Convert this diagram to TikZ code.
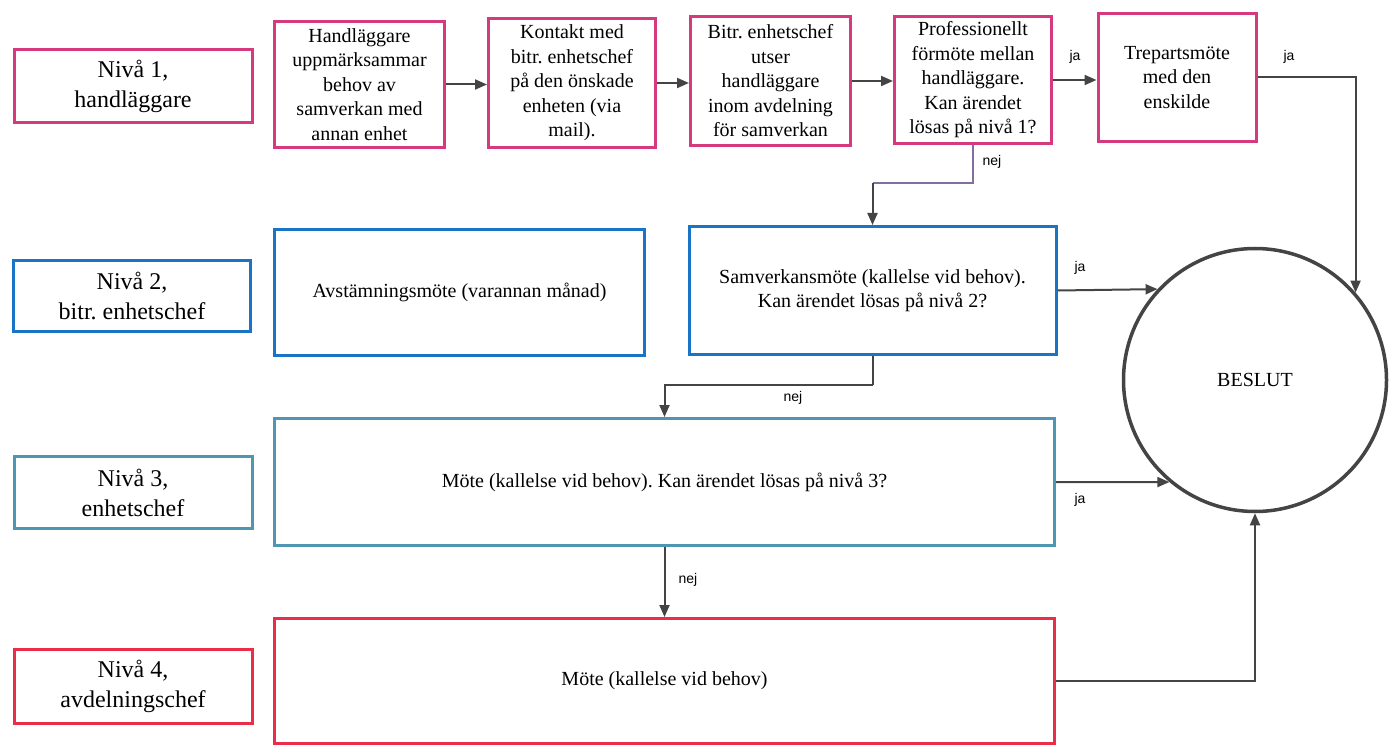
\documentclass[tikz,border=0pt]{standalone}
\usepackage{fontspec}
\setmainfont{Liberation Serif}
\newfontfamily\serifmain{Liberation Serif}
\newfontfamily\labsans{Liberation Sans}
\usetikzlibrary{arrows.meta}
\frenchspacing
\definecolor{cpink}{RGB}{212,58,125}
\definecolor{cblue}{RGB}{25,116,198}
\definecolor{cteal}{RGB}{78,150,178}
\definecolor{cred}{RGB}{234,46,74}
\definecolor{cgray}{RGB}{68,68,68}
\definecolor{clav}{RGB}{130,110,160}
\newcommand\boxfont{\serifmain\frenchspacing\fontsize{20}{24.5}\selectfont}
\newcommand\nivfont{\serifmain\fontsize{24}{30}\selectfont}
\tikzset{
  base/.style={draw, line width=3pt, fill=white, align=center, inner sep=0pt, font=\boxfont},
  pinkbox/.style={base, draw=cpink},
  bluebox/.style={base, draw=cblue},
  tealbox/.style={base, draw=cteal},
  redbox/.style={base, draw=cred},
  nivbox/.style={font=\nivfont},
  conn/.style={line width=2pt, draw=cgray, -{Triangle[length=12pt,width=10pt]}},
  plainline/.style={line width=2pt, draw=cgray},
  lavline/.style={line width=2pt, draw=clav},
  yesno/.style={font=\labsans\fontsize{14}{16}\selectfont, text=black, inner sep=0pt},
}
\begin{document}
\begin{tikzpicture}[x=1pt,y=-1pt]
\useasboundingbox (0,0) rectangle (1390,746);
% level labels
\node[pinkbox, nivbox, minimum width=238pt, minimum height=73pt] (n1) at (133,86) {Nivå 1,\\handläggare};
\node[bluebox, nivbox, minimum width=237pt, minimum height=71pt] (n2) at (132,296) {Nivå 2,\\bitr. enhetschef};
\node[tealbox, nivbox, minimum width=238pt, minimum height=72pt] (n3) at (133,492.5) {Nivå 3,\\enhetschef};
\node[redbox, nivbox, minimum width=238pt, minimum height=74pt] (n4) at (133,686.5) {Nivå 4,\\avdelningschef};
% level 1 row
\node[pinkbox, minimum width=170pt, minimum height=126pt] (A) at (359.5,84.5) {Handläggare\\uppmärksammar\\behov av\\samverkan med\\annan enhet};
\node[pinkbox, minimum width=167pt, minimum height=129pt] (B) at (572,83) {Kontakt med\\bitr. enhetschef\\på den önskade\\enheten (via\\mail).};
\node[pinkbox, minimum width=160pt, minimum height=129pt] (C) at (770.5,81) {Bitr. enhetschef\\utser\\handläggare\\inom avdelning\\för samverkan};
\node[pinkbox, minimum width=157pt, minimum height=127pt] (D) at (973,80) {Professionellt\\förmöte mellan\\handläggare.\\Kan ärendet\\lösas på nivå 1?};
\node[pinkbox, minimum width=158pt, minimum height=128pt] (E) at (1177,77.5) {Trepartsmöte\\med den\\enskilde};
% level 2
\node[bluebox, minimum width=370pt, minimum height=126pt] (AV) at (459.5,292.5) {Avstämningsmöte (varannan månad)};
\node[bluebox, minimum width=367pt, minimum height=128pt] (S) at (872.5,290.5) {Samverkansmöte (kallelse vid behov).\\Kan ärendet lösas på nivå 2?};
% level 3
\node[tealbox, minimum width=780pt, minimum height=127pt] (M3) at (664.5,482) {Möte (kallelse vid behov). Kan ärendet lösas på nivå 3?};
% level 4
\node[redbox, minimum width=780pt, minimum height=125pt] (M4) at (664.5,681) {Möte (kallelse vid behov)};
% decision
\node[draw=cgray, line width=3.5pt, circle, minimum size=263pt, inner sep=0pt, font=\boxfont] (circ) at (1255,380) {BESLUT};
% connectors level 1
\draw[conn] (A.east) -- (A.east -| B.west);
\draw[conn] (B.east) -- (B.east -| C.west);
\draw[conn] (C.east) -- (C.east -| D.west);
\draw[conn] (D.east) -- (D.east -| E.west);
\draw[conn] (E.east) -| (circ.41.2);
% nej from D
\coordinate (k1) at (872.5,183);
\draw[lavline] (D.south) |- (k1);
\draw[conn] (k1) -- (S.north);
% level 2
\coordinate (k2) at (872.5,385);
\draw[plainline] (S.south) -- (k2);
\draw[conn] (k2) -| (M3.north);
\draw[conn] (S.east) -- (circ.137.1);
% level 3
\draw[conn] (M3.east) -- (circ.230.9);
\draw[conn] (M3.south) -- (M4.north);
% level 4
\draw[conn] (M4.east) -| (circ.south);
% labels
\node[yesno] (l1) at (1075,57) {ja};
\node[yesno] (l2) at (1289,57) {ja};
\node[yesno] (l3) at (992,162) {nej};
\node[yesno] (l4) at (1080,268) {ja};
\node[yesno] (l5) at (793,398) {nej};
\node[yesno] (l6) at (1080,500) {ja};
\node[yesno] (l7) at (688,580) {nej};
\end{tikzpicture}
\end{document}
